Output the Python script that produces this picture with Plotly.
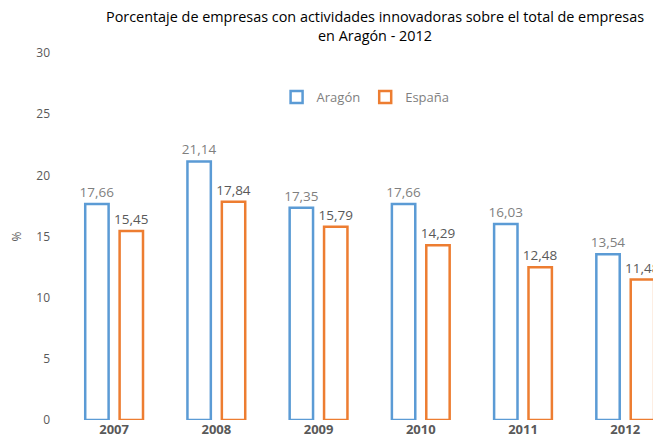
import plotly.graph_objects as go

years = ["2007", "2008", "2009", "2010", "2011", "2012"]
aragon = [17.66, 21.14, 17.35, 17.66, 16.03, 13.54]
espana = [15.45, 17.84, 15.79, 14.29, 12.48, 11.48]
y_ticks = [0, 5, 10, 15, 20, 25, 30]

fig = go.Figure()
fig.add_trace(go.Bar(
    x=years, y=aragon, name="Aragón",
    marker=dict(color="white", line=dict(color="#5B9BD5", width=2.5)),
    texttemplate="%{y:.2f}", textposition="outside",
    textfont=dict(color="#7F7F7F", size=13.5, family="Open Sans"),
    cliponaxis=False,
))
fig.add_trace(go.Bar(
    x=years, y=espana, name="España",
    marker=dict(color="white", line=dict(color="#ED7D31", width=2.5)),
    texttemplate="%{y:.2f}", textposition="outside",
    textfont=dict(color="#595959", size=13.5, family="Open Sans"),
    cliponaxis=False,
))

fig.update_layout(
    width=653, height=439,
    margin=dict(l=53, r=0, t=45, b=27),
    paper_bgcolor="white", plot_bgcolor="white",
    separators=",.",
    barmode="group", bargap=0.327, bargroupgap=0.32,
    uniformtext=dict(minsize=13, mode="show"),
    legend=dict(
        orientation="h", x=0.506, xanchor="center", y=0.88, yanchor="middle",
        font=dict(family="Open Sans", size=13, color="#7F7F7F"),
        bgcolor="rgba(0,0,0,0)", itemwidth=30,
    ),
    showlegend=True,
    annotations=[dict(
        text="Porcentaje de empresas con actividades innovadoras sobre el total de empresas<br>en Aragón - 2012",
        xref="paper", yref="paper", x=0.522, y=1.015, xanchor="center", yanchor="bottom",
        showarrow=False, align="center",
        font=dict(family="Open Sans", size=14.4, color="#000000"),
    )],
)
fig.update_xaxes(
    range=[-0.5, 5.35], showgrid=False, showline=False, zeroline=False,
    tickfont=dict(family="Open Sans", size=13, color="#595959", weight="bold"),
    ticks="",
)
fig.update_yaxes(
    range=[0, 30], tickvals=y_ticks, showgrid=False, showline=False, zeroline=False,
    tickfont=dict(family="Open Sans", size=12, color="#595959"),
    ticklabelstandoff=12,
    title=dict(text="%", font=dict(family="Open Sans", size=12, color="#595959"), standoff=20),
)

fig.write_html("out.html")
